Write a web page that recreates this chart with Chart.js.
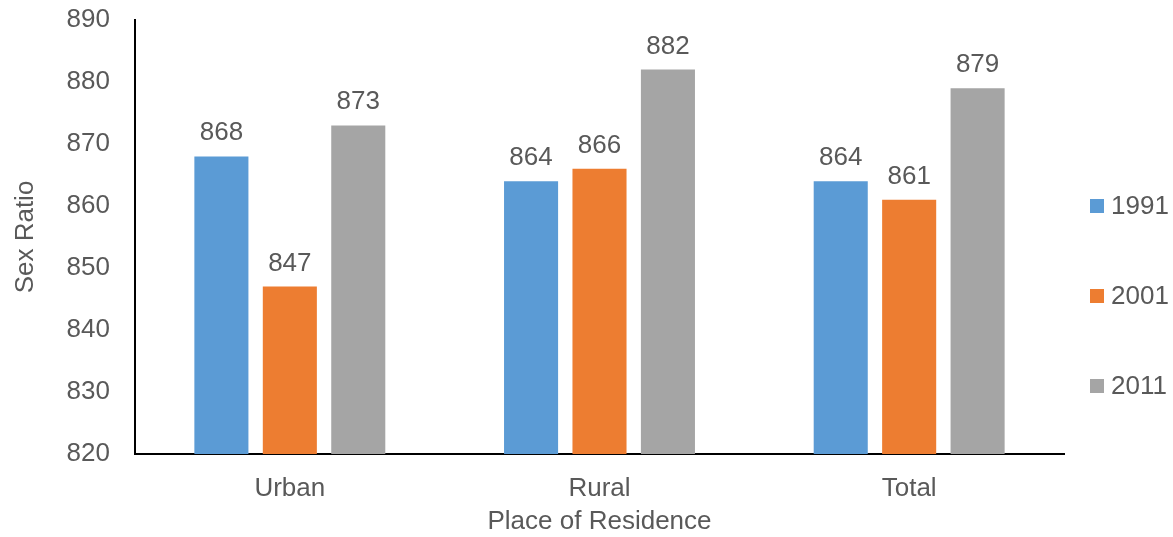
<!DOCTYPE html>
<html>
<head>
<meta charset="utf-8">
<script src="https://cdn.jsdelivr.net/npm/chart.js@4/dist/chart.umd.min.js"></script>
<style>
  html, body { margin: 0; padding: 0; background: #fff; }
  #wrap { width: 1173px; height: 537px; }
</style>
</head>
<body>
<div id="wrap"><canvas id="barChart"></canvas></div>
<script>
const places = ['Urban', 'Rural', 'Total'];
const years = ['1991', '2001', '2011'];
const ratio1991 = [868, 864, 864];
const ratio2001 = [847, 866, 861];
const ratio2011 = [873, 882, 879];
const yTicks = [820, 830, 840, 850, 860, 870, 880, 890];

const colors = ['#5B9BD5', '#ED7D31', '#A5A5A5'];
const textColor = '#595959';
const fontFamily = '"Liberation Sans", Arial, sans-serif';
const fontSize = 26;

// value labels above every bar
const valueLabels = {
    id: 'valueLabels',
    afterDatasetsDraw(chart) {
        const ctx = chart.ctx;
        ctx.save();
        ctx.font = fontSize + 'px ' + fontFamily;
        ctx.fillStyle = textColor;
        ctx.textAlign = 'center';
        ctx.textBaseline = 'alphabetic';
        chart.data.datasets.forEach((ds, i) => {
            chart.getDatasetMeta(i).data.forEach((bar, j) => {
                ctx.fillText(String(ds.data[j]), bar.x, bar.y - 16);
            });
        });
        ctx.restore();
    }
};

// legend drawn on the right, one entry per year
const sideLegend = {
    id: 'sideLegend',
    afterDraw(chart) {
        const ctx = chart.ctx;
        ctx.save();
        ctx.font = fontSize + 'px ' + fontFamily;
        ctx.textBaseline = 'middle';
        ctx.textAlign = 'left';
        chart.data.datasets.forEach((ds, i) => {
            const y = 206 + i * 90;
            ctx.fillStyle = ds.backgroundColor;
            ctx.fillRect(1090, y - 7, 14, 14);
            ctx.fillStyle = textColor;
            ctx.fillText(ds.label, 1111, y + 1);
        });
        ctx.restore();
    }
};

const datasetValues = [ratio1991, ratio2001, ratio2011];

new Chart(document.getElementById('barChart').getContext('2d'), {
    type: 'bar',
    data: {
        labels: places,
        datasets: years.map((yr, i) => ({
            label: yr,
            data: datasetValues[i],
            backgroundColor: colors[i],
            categoryPercentage: 0.663,
            barPercentage: 0.79
        }))
    },
    options: {
        responsive: true,
        maintainAspectRatio: false,
        animation: false,
        layout: { padding: { left: 0, right: 109, top: 0, bottom: 0 } },
        plugins: {
            legend: { display: false },
            tooltip: { enabled: false }
        },
        scales: {
            x: {
                grid: { display: false, drawTicks: false },
                border: { color: '#000', width: 2 },
                ticks: {
                    color: textColor,
                    padding: 19,
                    font: { family: fontFamily, size: fontSize }
                },
                title: {
                    display: true,
                    text: 'Place of Residence',
                    color: textColor,
                    padding: { top: 0, bottom: 0 },
                    font: { family: fontFamily, size: fontSize }
                },
                afterFit(scale) { scale.height = 83; }
            },
            y: {
                min: 820,
                max: 890,
                grid: { display: false, drawTicks: false },
                border: { color: '#000', width: 2 },
                afterBuildTicks(scale) {
                    scale.ticks = yTicks.map(v => ({ value: v }));
                },
                ticks: {
                    color: textColor,
                    padding: 25,
                    font: { family: fontFamily, size: fontSize }
                },
                title: {
                    display: true,
                    text: 'Sex Ratio',
                    color: textColor,
                    padding: { top: 10, bottom: 0 },
                    font: { family: fontFamily, size: fontSize }
                },
                afterFit(scale) {
                    scale.width = 135;
                    scale.paddingTop = 20;
                    scale.paddingBottom = 20;
                }
            }
        }
    },
    plugins: [valueLabels, sideLegend]
});
</script>
</body>
</html>
